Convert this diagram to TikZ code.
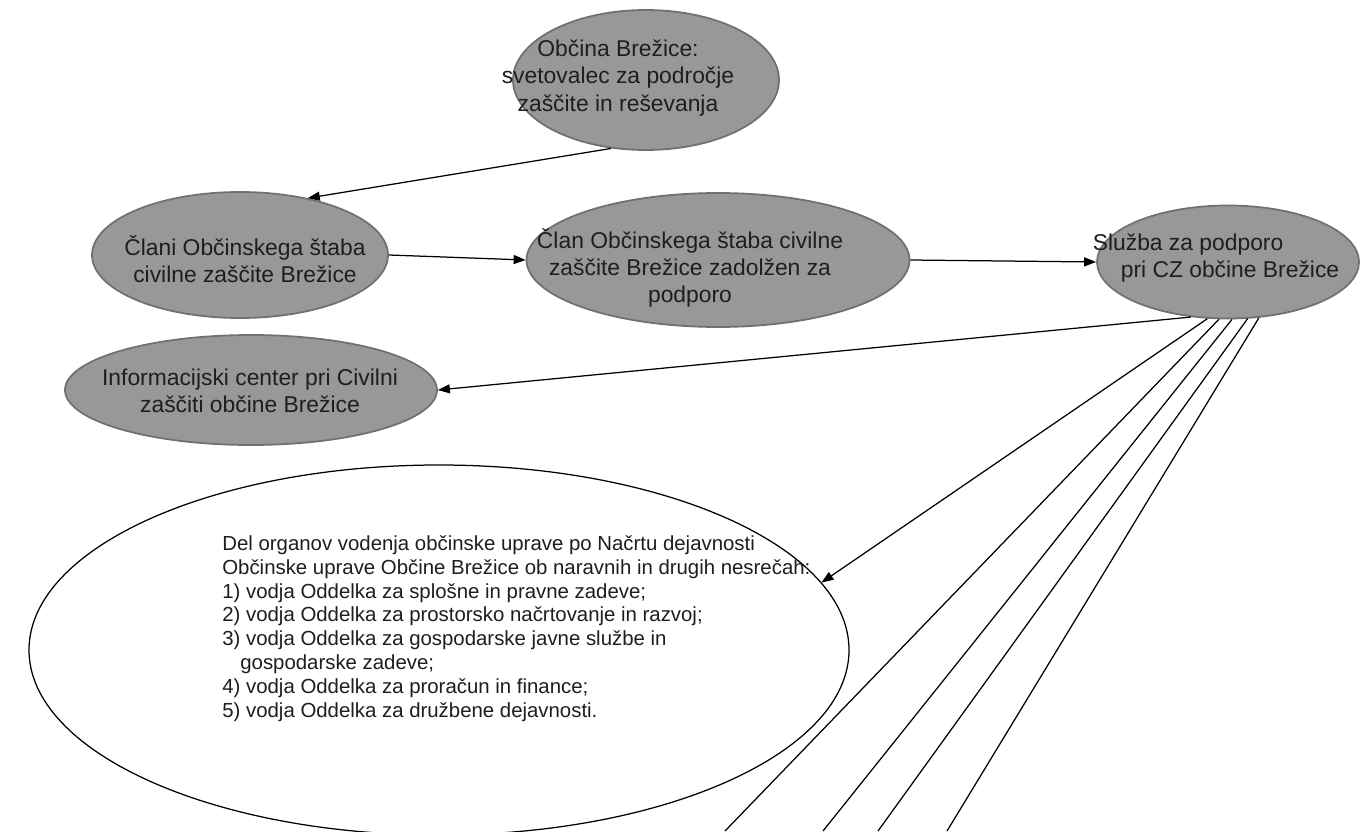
\documentclass[tikz,border=0pt]{standalone}
\usepackage{fontspec}
\setmainfont{Liberation Sans}
\usepackage{tikz}
\usetikzlibrary{shapes,arrows.meta,positioning,calc}

\definecolor{ellfill}{RGB}{152,152,152}
\definecolor{elldraw}{RGB}{112,112,112}
\definecolor{txtcol}{RGB}{30,30,30}

\begin{document}
\begin{tikzpicture}[x=0.2mm, y=-0.2mm,
    grayell/.style={ellipse, draw=elldraw, fill=ellfill, line width=0.35mm, inner sep=0pt},
    whiteell/.style={ellipse, draw=black, fill=white, line width=0.25mm, inner sep=0pt},
    lbl/.style={text=txtcol, align=center, inner sep=0pt, font=\fontsize{13pt}{15.5pt}\selectfont},
    arr/.style={-{Triangle[length=2.4mm, width=1.8mm]}, line width=0.25mm},
    ln/.style={line width=0.25mm}]
    \useasboundingbox (0,0) rectangle (1360,831);
    % Ellipses
    \node[grayell, minimum width=53.2mm, minimum height=28mm] (obcina) at (646,80) {};
    \node[lbl] (obcinaT) at (618,78) {Občina Brežice:\\svetovalec za področje\\zaščite in reševanja};
    \node[grayell, minimum width=59.2mm, minimum height=25.2mm] (clani) at (240,255) {};
    \node[lbl] (claniT) at (245,259) {Člani Občinskega štaba\\civilne zaščite Brežice};
    \node[grayell, minimum width=76.6mm, minimum height=26.8mm] (clan) at (718,260) {};
    \node[lbl] (clanT) at (690,268) {Član Občinskega štaba civilne\\zaščite Brežice zadolžen za\\podporo};
    \node[grayell, minimum width=52.4mm, minimum height=22.6mm] (sluzba) at (1228,262) {};
    \node[lbl, align=left] (sluzbaT) at (1216,258) {Služba za podporo\\\hspace*{5.6mm}pri CZ občine Brežice};
    \node[grayell, minimum width=74.4mm, minimum height=22mm] (info) at (251,390) {};
    \node[lbl] (infoT) at (250,391) {Informacijski center pri Civilni\\zaščiti občine Brežice};
    % Big white ellipse
    \node[whiteell, minimum width=164mm, minimum height=74mm] (organi) at (439,650) {};
    \node[lbl, align=left, anchor=north west, font=\fontsize{11.6pt}{13.6pt}\selectfont] (organiT) at (222,535)
        {Del organov vodenja občinske uprave po Načrtu dejavnosti\\
         Občinske uprave Občine Brežice ob naravnih in drugih nesrečah:\\
         1) vodja Oddelka za splošne in pravne zadeve;\\
         2) vodja Oddelka za prostorsko načrtovanje in razvoj;\\
         3) vodja Oddelka za gospodarske javne službe in\\
         \hspace*{3.6mm}gospodarske zadeve;\\
         4) vodja Oddelka za proračun in finance;\\
         5) vodja Oddelka za družbene dejavnosti.};
    % Free ends at the bottom edge
    \coordinate (endA) at (725,831);
    \coordinate (endB) at (823,831);
    \coordinate (endC) at (878,831);
    \coordinate (endD) at (947,831);
    % Arrows
    \draw[arr] (obcina.243) -- (clani.40);
    \draw[arr] (clani.east) -- (clan.west);
    \draw[arr] (clan.east) -- (sluzba.west);
    \draw[arr] (sluzba.236) -- (info.east);
    \draw[arr] (sluzba.250) -- (organi.10);
    % Lines leaving the picture
    \draw[ln] (sluzba.261) -- (endA);
    \draw[ln] (sluzba.274) -- (endB);
    \draw[ln] (sluzba.289) -- (endC);
    \draw[ln] (sluzba.299) -- (endD);
\end{tikzpicture}
\end{document}
